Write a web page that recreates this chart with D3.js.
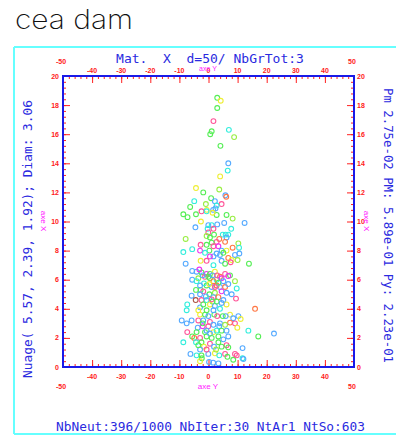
<!DOCTYPE html>
<html><head><meta charset="utf-8">
<script src="https://cdn.jsdelivr.net/npm/d3@7"></script>
<style>body{margin:0;background:#fff}svg{display:block}</style>
</head><body>
<script>
// ---- data ----
const xDomain = [-50, 50];
const yDomain = [0, 20];
const xInnerTicks = [-40, -30, -20, -10, 0, 10, 20, 30, 40];
const xOuterTicks = [-50, 50];
const yTickLabels = [0, 2, 4, 6, 8, 10, 12, 14, 16, 18, 20];
const titleText = "Mat.  X  d=50/ NbGrTot:3";
const bottomText = "NbNeut:396/1000 NbIter:30 NtAr1 NtSo:603";
const leftText = "Nuage( 5.57, 2.39, 1.92); Diam: 3.06";
const rightText = "Pm 2.75e-02 PM: 5.89e-01 Py: 2.23e-01";
const xAxisName = "axe Y";
const yAxisName = "axe X";
const logoText = "cea dam";

const pointX = [3.0,4.2,3.0,1.7,1.1,0.6,7.0,8.8,4.1,6.8,6.6,4.0,-4.3,-1.8,3.7,5.8,6.1,0.9,2.2,-4.9,-6.3,-0.9,4.5,2.8,2.4,1.6,-0.6,-8.65,-7.2,-4.3,-2.4,-0.65,2.8,6.2,8.3,1.4,-2.6,-0.06,1.1,3.0,5.4,-4.5,-0.3,7.8,12.4,1.7,-0.06,1.9,4.9,5.9,6.8,-0.65,0.5,3.7,6.2,-7.85,2.8,1.1,5.7,10.25,-2.7,-0.65,1.7,3.4,8.3,10.5,-5.6,-8.65,-2.9,0.3,4.5,6.2,-1.2,2.8,3.95,5.1,9.1,10.6,1.7,0.5,6.8,7.96,10.0,-2.7,-0.65,4.5,7.6,13.9,-7.85,1.7,5.7,-4.1,-5.6,-2.4,-0.65,0.5,2.2,5.7,7.4,-5.6,-3.5,-1.2,0.5,3.95,2.8,9.1,6.8,-4.3,-2.7,-0.65,1.1,2.8,3.95,5.7,9.7,-1.8,2.2,4.5,6.2,7.96,-5.8,-2.9,0.3,9.45,1.7,3.4,-4.4,-2.4,-0.65,1.4,5.1,-7.3,-7.5,-2.9,0.5,2.2,6.2,16.0,-0.65,3.95,-2.9,-1.2,2.0,7.4,5.9,8.5,10.25,-9.2,-7.5,-5.8,-3.5,-1.8,0.5,3.95,7.4,11.05,9.1,-3.7,-2.0,-0.06,3.7,9.9,-7.3,-4.1,-1.2,1.7,4.5,6.2,13.7,-5.6,-4.9,-2.9,-0.65,3.4,6.8,17.1,0.5,-8.65,-4.3,-2.4,0.5,3.4,6.2,-1.55,1.9,4.5,6.8,11.7,-2.9,-6.2,-4.1,-2.4,-0.06,2.2,3.7,5.7,9.1,11.7,12.0,8.5,-2.3,0.2,1.6,3.4,-2.9,6.5,9.7,22.5,
 -3.15,-2.0,-0.06,1.4,3.0,4.5,1.7,3.4,5.1,-1.55,0.3,2.2,-2.9,6.8,-4.1,-0.9,1.1,2.8,4.5,-1.8,-3.5,1.7,3.0,4.9,-0.06,-2.0,1.7,5.7,-0.65,2.8,1.1,5.1,-3.5,2.6,-0.65];
const pointY = [18.5,18.3,17.8,16.9,16.2,16.0,16.3,15.8,15.2,14.0,13.5,13.1,12.3,12.0,12.2,11.8,11.7,11.6,11.4,11.4,11.0,11.2,11.2,11.1,10.9,10.8,10.8,10.5,10.3,10.5,10.7,10.7,10.45,10.45,10.2,10.6,10.0,9.75,9.75,9.8,9.9,9.6,9.5,9.5,9.9,9.5,9.25,9.1,9.1,9.1,9.1,9.0,8.9,8.8,8.9,8.8,8.6,8.55,8.6,8.5,8.4,8.4,8.3,8.3,8.2,8.2,8.1,7.9,8.0,8.0,8.0,8.0,7.85,7.8,7.7,7.85,7.7,7.8,7.6,7.6,7.5,7.35,7.35,7.3,7.3,7.3,7.2,7.1,7.1,7.0,7.1,6.55,6.6,6.5,6.4,6.4,6.55,6.4,6.3,6.0,6.1,6.2,6.1,6.2,6.0,5.9,6.25,5.3,5.3,5.6,5.5,5.6,5.5,5.5,5.4,5.2,5.1,5.2,5.1,5.0,4.9,5.0,5.0,4.7,4.8,4.8,4.6,4.6,4.6,4.5,4.6,4.3,3.9,4.1,4.3,4.2,4.3,4.0,3.9,4.0,3.6,3.6,3.6,3.6,3.5,3.35,3.5,3.2,3.0,3.2,3.2,3.2,3.1,3.0,3.05,3.3,3.0,2.7,2.8,2.8,2.8,2.7,2.4,2.4,2.4,2.4,2.5,2.5,2.5,2.1,2.0,2.0,2.1,2.1,2.1,2.1,2.3,1.7,1.7,1.7,1.6,1.7,1.5,1.4,1.4,1.4,1.35,1.3,1.2,0.9,0.8,0.8,0.9,0.94,0.8,0.9,0.9,0.6,0.55,0.5,0.6,0.35,0.3,0.25,0.4,0.7,0.8,2.3,
 6.7,6.3,6.2,6.3,6.3,6.1,5.9,5.8,5.9,5.75,5.7,5.5,5.6,5.7,5.9,4.85,4.65,4.5,4.4,4.3,3.9,3.9,3.5,3.5,3.5,3.0,2.9,2.9,2.5,2.5,2.0,1.9,1.5,1.2,1.2];
const pointColor = ["g","y","g","p","g","g","c","lg","g","b","c","y","y","g","lg","b","o","g","b","c","g","lg","p","c","b","b","y","g","g","g","p","c","g","g","lg","y","y","b","c","b","b","b","c","c","b","p","p","g","c","c","c","lg","g","o","b","lg","p","g","o","lg","p","g","p","m","o","c","c","c","m","g","b","y","c","b","b","g","b","b","b","m","o","y","lg","y","p","b","p","g","b","c","g","b","b","g","m","g","y","p","g","b","lg","p","g","o","c","lg","m","g","g","g","b","o","b","o","c","p","lg","m","b","b","b","b","g","p","b","o","br","p","c","g","b","c","c","b","y","b","y","o","g","c","y","g","g","y","b","b","b","b","b","b","p","b","p","b","o","y","p","b","m","p","b","y","p","g","g","y","g","b","c","g","o","p","g","g","b","g","b","c","c","g","p","g","p","y","b","g","g","b","b","b","c","g","b","y","c","p","p","c","b","g","g","b","b","b","y","g","p","b",
 "m","b","g","b","p","m","o","g","b","c","y","p","b","b","c","b","p","g","b","g","y","b","p","g","b","g","b","lg","b","c","g","b","g","lg","p"];
const palette = {g:"#55ee55", lg:"#99ee44", y:"#eeee33", c:"#33eedd", b:"#55aaff", p:"#ff5599", m:"#ee33ee", o:"#ff7744", br:"#aa5544"};

// ---- drawing ----
const W = 396, H = 436;
const svg = d3.select("body").append("svg").attr("width", W).attr("height", H);
const x = d3.scaleLinear(xDomain, [63, 354]);
const y = d3.scaleLinear(yDomain, [367, 76]);

// logo
svg.append("text").text(logoText).attr("x", 15).attr("y", 29)
  .attr("textLength", 118).attr("lengthAdjust", "spacingAndGlyphs")
  .style("font-family", "Inter, 'Open Sans', sans-serif").style("font-weight", 200)
  .style("font-size", "27px").attr("fill", "#111");

// cyan frame
const cy = "#66ffff";
svg.append("line").attr("x1", 14).attr("x2", 396).attr("y1", 47).attr("y2", 47).attr("stroke", cy).attr("stroke-width", 2);
svg.append("line").attr("x1", 14).attr("x2", 396).attr("y1", 434).attr("y2", 434).attr("stroke", cy).attr("stroke-width", 2);
svg.append("line").attr("x1", 14).attr("x2", 14).attr("y1", 47).attr("y2", 434).attr("stroke", cy).attr("stroke-width", 2);

const mono = "'DejaVu Sans Mono', monospace";
const blue = "#2a2ae0";
svg.append("text").text(titleText).attr("x", 210).attr("y", 63).attr("text-anchor", "middle")
  .attr("xml:space", "preserve").style("white-space", "pre")
  .style("font-family", mono).style("font-size", "13px").attr("fill", blue);
svg.append("text").text(bottomText).attr("x", 56).attr("y", 431)
  .attr("textLength", 309).attr("lengthAdjust", "spacingAndGlyphs")
  .style("font-family", mono).style("font-size", "13px").attr("fill", blue);
svg.append("text").text(leftText).attr("transform", "translate(32,378) rotate(-90)")
  .attr("textLength", 278).attr("lengthAdjust", "spacingAndGlyphs")
  .style("font-family", mono).style("font-size", "13px").attr("fill", blue);
svg.append("text").text(rightText).attr("transform", "translate(384,88) rotate(90)")
  .attr("textLength", 275).attr("lengthAdjust", "spacingAndGlyphs")
  .style("font-family", mono).style("font-size", "13px").attr("fill", blue);

// axes ticks
const red = "#ff2020";
function styleAxis(g){ g.select(".domain").remove(); g.selectAll("line").attr("stroke", red); g.selectAll("text").remove(); }
const xMinor = d3.range(-50, 51, 2), xMajor = d3.range(-50, 51, 10);
const yMinor = d3.range(0, 20.01, 0.4), yMajor = d3.range(0, 21, 2);
svg.append("g").attr("transform", "translate(0,367)").call(d3.axisTop(x).tickValues(xMinor).tickSize(3)).call(styleAxis);
svg.append("g").attr("transform", "translate(0,367)").call(d3.axisTop(x).tickValues(xMajor).tickSize(7)).call(styleAxis);
svg.append("g").attr("transform", "translate(0,76)").call(d3.axisBottom(x).tickValues(xMinor).tickSize(3)).call(styleAxis);
svg.append("g").attr("transform", "translate(0,76)").call(d3.axisBottom(x).tickValues(xMajor).tickSize(7)).call(styleAxis);
svg.append("g").attr("transform", "translate(63,0)").call(d3.axisRight(y).tickValues(yMinor).tickSize(3)).call(styleAxis);
svg.append("g").attr("transform", "translate(63,0)").call(d3.axisRight(y).tickValues(yMajor).tickSize(7)).call(styleAxis);
svg.append("g").attr("transform", "translate(354,0)").call(d3.axisLeft(y).tickValues(yMinor).tickSize(3)).call(styleAxis);
svg.append("g").attr("transform", "translate(354,0)").call(d3.axisLeft(y).tickValues(yMajor).tickSize(7)).call(styleAxis);

// tick labels
const lab = (sel) => sel.style("font-family", "'Liberation Sans', Arial, sans-serif").style("font-weight", "bold")
  .style("font-size", "7px").attr("fill", red);
svg.selectAll(".xtb").data(xInnerTicks).join("text").attr("x", d => x(d)).attr("y", 379).attr("text-anchor", "middle").text(d => d).call(lab);
svg.selectAll(".xtt").data(xInnerTicks).join("text").attr("x", d => x(d)).attr("y", 73).attr("text-anchor", "middle").text(d => d).call(lab);
svg.selectAll(".xob").data(xOuterTicks).join("text").attr("x", d => x(d) - 2).attr("y", 389).attr("text-anchor", "middle").text(d => d).call(lab);
svg.selectAll(".xot").data(xOuterTicks).join("text").attr("x", d => x(d) - 2).attr("y", 64).attr("text-anchor", "middle").text(d => d).call(lab);
svg.selectAll(".ytl").data(yTickLabels).join("text").attr("x", 59).attr("y", d => y(d) + 2.5).attr("text-anchor", "end").text(d => d).call(lab);
svg.selectAll(".ytr").data(yTickLabels).join("text").attr("x", 357).attr("y", d => y(d) + 2.5).attr("text-anchor", "start").text(d => d).call(lab);

// axis names
const mag = "#ff22ff";
const nm = (sel) => sel.style("font-family", "'Liberation Sans', Arial, sans-serif").style("font-size", "8px").attr("fill", mag);
svg.append("text").text(xAxisName).attr("x", 208).attr("y", 389).attr("text-anchor", "middle").call(nm);
svg.append("text").text(xAxisName).attr("x", 208).attr("y", 71).attr("text-anchor", "middle").call(nm).style("font-size", "7px");
svg.append("text").text(yAxisName).attr("transform", "translate(41,221) rotate(90)").attr("text-anchor", "middle").call(nm);
svg.append("text").text(yAxisName).attr("transform", "translate(364,221) rotate(90)").attr("text-anchor", "middle").call(nm);

// points
svg.append("g").selectAll("circle").data(pointX.map((v, i) => ({x: v, y: pointY[i], c: pointColor[i]})))
  .join("circle").attr("cx", d => x(d.x)).attr("cy", d => y(d.y)).attr("r", 2.4)
  .attr("fill", "none").attr("stroke", d => palette[d.c]).attr("stroke-width", 1.1);

// blue frame
svg.append("rect").attr("x", 63).attr("y", 76).attr("width", 291).attr("height", 291)
  .attr("fill", "none").attr("stroke", "#1a1ae8").attr("stroke-width", 2);
</script>
</body></html>
